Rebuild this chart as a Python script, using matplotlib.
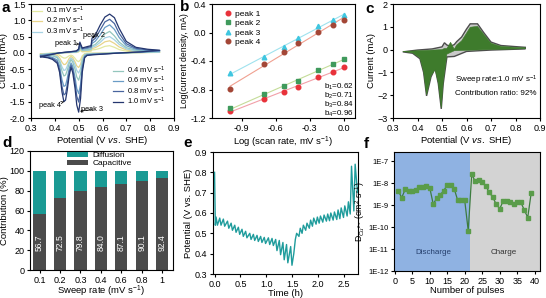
import matplotlib
matplotlib.use("Agg")
import matplotlib.pyplot as plt
import numpy as np

plt.rcParams.update({
    "font.family": ["Liberation Sans", "DejaVu Sans"],
    "font.size": 6.5,
    "axes.linewidth": 0.8,
    "xtick.major.size": 2.5,
    "ytick.major.size": 2.5,
    "xtick.major.width": 0.8,
    "ytick.major.width": 0.8,
    "xtick.major.pad": 1.5,
    "ytick.major.pad": 1.5,
    "axes.labelpad": 1.2,
    "mathtext.fontset": "custom",
    "mathtext.rm": "Liberation Sans",
    "mathtext.it": "Liberation Sans:italic",
    "mathtext.bf": "Liberation Sans:bold",
})

###################
# Data
###################

# (a) CV curves at several sweep rates, anodic + cathodic branch
scan_rates = ["0.1", "0.2", "0.3", "0.4", "0.6", "0.8", "1.0"]
cv_anodic_v = [0.34, 0.38, 0.42, 0.46, 0.49, 0.50, 0.505, 0.515, 0.54, 0.552, 0.556,
               0.57, 0.59, 0.61, 0.63, 0.65, 0.67, 0.70, 0.74, 0.79, 0.84]
cv_cathodic_v = [0.84, 0.76, 0.68, 0.60, 0.56, 0.535, 0.525, 0.515, 0.508, 0.50, 0.492,
                 0.485, 0.475, 0.468, 0.46, 0.452, 0.445, 0.438, 0.43, 0.42, 0.41,
                 0.39, 0.37, 0.34]
cv_anodic_i = [
    [-0.03, -0.01, 0.0, 0.01, 0.01, 0.03, 0.08, 0.03, 0.04, 0.05, 0.09, 0.10, 0.14, 0.20, 0.22, 0.17, 0.10, 0.05, 0.03, 0.02, 0.02],
    [-0.04, -0.02, 0.0, 0.01, 0.02, 0.04, 0.12, 0.05, 0.06, 0.08, 0.13, 0.16, 0.24, 0.34, 0.37, 0.29, 0.18, 0.09, 0.05, 0.03, 0.02],
    [-0.05, -0.02, 0.0, 0.01, 0.02, 0.05, 0.15, 0.07, 0.08, 0.10, 0.17, 0.21, 0.32, 0.46, 0.50, 0.40, 0.26, 0.12, 0.06, 0.04, 0.03],
    [-0.06, -0.03, 0.0, 0.02, 0.03, 0.06, 0.17, 0.08, 0.10, 0.12, 0.21, 0.26, 0.40, 0.58, 0.66, 0.52, 0.33, 0.16, 0.08, 0.05, 0.04],
    [-0.08, -0.04, 0.0, 0.02, 0.04, 0.08, 0.23, 0.11, 0.14, 0.16, 0.29, 0.36, 0.55, 0.78, 0.86, 0.72, 0.47, 0.22, 0.11, 0.07, 0.06],
    [-0.10, -0.05, 0.0, 0.03, 0.05, 0.10, 0.28, 0.13, 0.17, 0.19, 0.36, 0.45, 0.70, 0.95, 1.03, 0.90, 0.60, 0.28, 0.14, 0.09, 0.07],
    [-0.12, -0.06, 0.0, 0.03, 0.06, 0.12, 0.33, 0.15, 0.20, 0.22, 0.45, 0.55, 0.85, 1.10, 1.19, 1.08, 0.75, 0.35, 0.17, 0.11, 0.08],
]
cv_cathodic_i = [
    [0.015, 0.005, 0.0, -0.01, -0.01, -0.015, -0.025, -0.09, -0.21, -0.27, -0.24, -0.17, -0.09, -0.07, -0.09, -0.13, -0.16, -0.16, -0.13, -0.07, -0.04, -0.03, -0.03, -0.03],
    [0.02, 0.01, 0.0, -0.01, -0.015, -0.02, -0.04, -0.15, -0.35, -0.45, -0.40, -0.28, -0.15, -0.11, -0.17, -0.28, -0.35, -0.36, -0.29, -0.15, -0.08, -0.05, -0.04, -0.04],
    [0.03, 0.01, 0.0, -0.015, -0.02, -0.03, -0.05, -0.20, -0.48, -0.62, -0.54, -0.37, -0.21, -0.16, -0.25, -0.41, -0.52, -0.54, -0.43, -0.22, -0.12, -0.07, -0.05, -0.05],
    [0.04, 0.015, 0.0, -0.02, -0.03, -0.04, -0.07, -0.28, -0.64, -0.84, -0.74, -0.51, -0.28, -0.21, -0.33, -0.54, -0.68, -0.71, -0.56, -0.28, -0.15, -0.09, -0.07, -0.06],
    [0.06, 0.02, 0.0, -0.03, -0.04, -0.06, -0.10, -0.41, -0.97, -1.25, -1.10, -0.76, -0.41, -0.31, -0.48, -0.79, -1.00, -1.03, -0.83, -0.41, -0.22, -0.14, -0.10, -0.08],
    [0.07, 0.025, 0.0, -0.035, -0.05, -0.07, -0.13, -0.50, -1.16, -1.51, -1.33, -0.92, -0.50, -0.38, -0.60, -0.99, -1.25, -1.29, -1.03, -0.52, -0.27, -0.17, -0.13, -0.10],
    [0.08, 0.03, 0.0, -0.04, -0.06, -0.08, -0.15, -0.60, -1.40, -1.82, -1.60, -1.10, -0.60, -0.45, -0.70, -1.15, -1.45, -1.50, -1.20, -0.60, -0.32, -0.20, -0.15, -0.12],
]
cv_colors = ["#e2e8a0", "#e8d48a", "#a6d2e4", "#93c6bd", "#6a9cc6", "#48659e", "#24366f"]

# (b) log peak current vs log scan rate
log_rate = [-1.0, -0.699, -0.523, -0.398, -0.222, -0.097, 0.0]
log_peak1 = [-1.10, -0.93, -0.83, -0.77, -0.63, -0.55, -0.48]
log_peak2 = [-1.065, -0.87, -0.757, -0.677, -0.533, -0.44, -0.37]
log_peak3 = [-0.57, -0.35, -0.206, -0.08, 0.092, 0.176, 0.246]
log_peak4 = [-0.79, -0.444, -0.27, -0.15, 0.013, 0.11, 0.176]
b_values = ["0.62", "0.71", "0.84", "0.96"]

# (c) capacitive contribution at 1.0 mV/s
c_anodic_v = [0.34, 0.40, 0.46, 0.50, 0.51, 0.52, 0.535, 0.55, 0.56, 0.58,
              0.60, 0.615, 0.645, 0.67, 0.70, 0.74, 0.80, 0.84]
c_total_anodic = [-0.10, -0.02, 0.03, 0.12, 0.30, 0.20, 0.15, 0.22, 0.35, 0.55,
                  0.90, 1.13, 1.13, 0.75, 0.33, 0.18, 0.13, 0.10]
c_cap_anodic = [-0.08, -0.05, -0.02, 0.0, 0.05, 0.05, 0.32, 0.02, 0.20, 0.38,
                0.72, 0.98, 1.02, 0.68, 0.28, 0.14, 0.10, 0.08]
c_cathodic_v = [0.84, 0.70, 0.60, 0.55, 0.52, 0.505, 0.497, 0.485, 0.472,
                0.455, 0.437, 0.425, 0.41, 0.38, 0.34]
c_total_cathodic = [0.03, -0.02, -0.08, -0.30, -0.32, -1.5, -2.6, -1.5, -0.82,
                    -1.2, -2.03, -1.0, -0.40, -0.16, -0.10]
c_cap_cathodic = [0.04, 0.0, -0.03, -0.05, -0.20, -1.4, -2.55, -1.45, -0.88,
                  -1.15, -1.98, -0.95, -0.36, -0.14, -0.08]

# (d) contribution bars
sweep_labels = ["0.1", "0.2", "0.3", "0.4", "0.6", "0.8", "1"]
capacitive = [56.7, 72.5, 79.8, 84.0, 87.1, 90.1, 92.4]
diffusion = [100 - c for c in capacitive]

# (e) GITT profile
dis_start = [0.03, 0.10, 0.17, 0.25, 0.32, 0.39, 0.46, 0.53, 0.60, 0.68, 0.75,
             0.82, 0.89, 0.96, 1.04, 1.11, 1.18, 1.25, 1.32, 1.39, 1.47]
dis_end = [0.055, 0.125, 0.195, 0.275, 0.345, 0.415, 0.485, 0.555, 0.625, 0.705, 0.775,
           0.845, 0.915, 0.985, 1.065, 1.135, 1.205, 1.275, 1.345, 1.415, 1.495]
dis_relaxed = [0.58, 0.575, 0.57, 0.56, 0.55, 0.54, 0.53, 0.52, 0.51, 0.50, 0.495,
               0.49, 0.485, 0.48, 0.478, 0.475, 0.47, 0.465, 0.455, 0.445, 0.435]
dis_loaded = [0.54, 0.54, 0.535, 0.525, 0.515, 0.505, 0.495, 0.485, 0.478, 0.47, 0.465,
              0.46, 0.455, 0.45, 0.445, 0.44, 0.415, 0.395, 0.37, 0.355, 0.343]
chg_start = [1.56, 1.63, 1.69, 1.76, 1.83, 1.89, 1.96, 2.02, 2.09, 2.16, 2.22,
             2.29, 2.36, 2.42, 2.49, 2.56, 2.62, 2.69]
chg_end = [1.585, 1.655, 1.715, 1.785, 1.855, 1.915, 1.985, 2.045, 2.115, 2.185, 2.245,
           2.315, 2.385, 2.445, 2.515, 2.585, 2.645, 2.715]
chg_relaxed = [0.47, 0.485, 0.50, 0.515, 0.525, 0.535, 0.545, 0.55, 0.555, 0.56, 0.562,
               0.565, 0.568, 0.572, 0.578, 0.585, 0.595, 0.61]
chg_loaded = [0.50, 0.525, 0.54, 0.55, 0.565, 0.575, 0.58, 0.585, 0.59, 0.595, 0.60,
              0.605, 0.615, 0.625, 0.635, 0.655, 0.83, 0.84]
gitt_head_t, gitt_head_v = [0.0, 0.015], [0.80, 0.54]
gitt_gap_t, gitt_gap_v = [1.53], [0.40]
gitt_tail_t, gitt_tail_v = [2.76], [0.70]

# (f) diffusion coefficient per pulse
pulses = list(range(1, 40))
log_diff = [-8.34, -8.65, -8.28, -8.34, -8.37, -8.30, -8.16, -8.16, -8.11, -8.19,
            -8.95, -8.68, -8.52, -8.34, -8.07, -8.07, -8.25, -8.78, -8.75, -8.78,
            -10.16,
            -7.59, -7.91, -7.85, -7.95, -8.13, -8.40, -8.64, -8.95, -9.16,
            -8.80, -8.80, -8.86, -8.92, -8.86, -8.86, -9.21, -9.56, -8.42]

###################
# Figure
###################

W, H = 546, 298
fig = plt.figure(figsize=(W / 100, H / 100), dpi=100)


def box(l, t, r, b):
    return [l / W, 1 - b / H, (r - l) / W, (b - t) / H]


lab_fs = 6.8
note_fs = 5.8

# ---- a
ax = fig.add_axes(box(31, 4, 174, 118))
lines = []
for col, ia, ic in zip(cv_colors, cv_anodic_i, cv_cathodic_i):
    ln, = ax.plot(cv_anodic_v + cv_cathodic_v, ia + ic, color=col, lw=0.9)
    lines.append(ln)
labels = [r + r" mV s$^{-1}$" for r in scan_rates]
leg_kw = dict(frameon=False, fontsize=5.5, handlelength=1.4, labelspacing=-0.12,
              handletextpad=0.5, borderpad=0.1, borderaxespad=0.0)
leg1 = ax.legend(lines[:3], labels[:3], loc="upper left",
                 bbox_to_anchor=(0.0, 1.0), **leg_kw)
ax.add_artist(leg1)
ax.legend(lines[3:], labels[3:], loc="lower left",
          bbox_to_anchor=(0.565, 0.09), **leg_kw)
arrow = dict(arrowstyle="->", lw=0.5, color="black", shrinkA=0, shrinkB=1,
             mutation_scale=4)
ax.annotate("peak 1", xy=(0.503, 0.27), xytext=(0.445, 0.28), fontsize=5.3,
            ha="center", va="center", arrowprops=arrow)
ax.annotate("peak 2", xy=(0.556, 0.40), xytext=(0.565, 0.52), fontsize=5.3,
            ha="center", va="center", arrowprops=arrow)
ax.annotate("peak 3", xy=(0.50, -1.8), xytext=(0.556, -1.74), fontsize=5.3,
            ha="center", va="center", arrowprops=arrow)
ax.annotate("peak 4", xy=(0.438, -1.5), xytext=(0.38, -1.63), fontsize=5.3,
            ha="center", va="center", arrowprops=arrow)
ax.set_xlim(0.3, 0.9)
ax.set_ylim(-2.0, 1.5)
ax.set_xticks(np.arange(0.3, 0.91, 0.1))
ax.set_yticks(np.arange(-2.0, 1.51, 0.5))
ax.xaxis.set_major_formatter(matplotlib.ticker.FormatStrFormatter("%.1f"))
ax.yaxis.set_major_formatter(matplotlib.ticker.FormatStrFormatter("%.1f"))
ax.set_xlabel(r"Potential (V $\mathit{vs.}$ SHE)", fontsize=lab_fs)
ax.set_ylabel("Current (mA)", fontsize=lab_fs)

# ---- b
ax = fig.add_axes(box(212, 4, 355, 118))
series = [(log_peak1, "#e8323a", "o", "#f2a0a8"),
          (log_peak2, "#3f9a5c", "s", "#c4dc98"),
          (log_peak3, "#3fc6e0", "^", "#9fe2ee"),
          (log_peak4, "#a34636", "o", "#f0a090")]
for i, (vals, col, mk, lcol) in enumerate(series):
    k, b0 = np.polyfit(log_rate, vals, 1)
    xs = np.array([log_rate[0], log_rate[-1]])
    ax.plot(xs, k * xs + b0, color=lcol, lw=0.8, zorder=1)
    ax.plot(log_rate, vals, ls="none", marker=mk, ms=3.3, color=col,
            label="peak %d" % (i + 1), zorder=3)
ax.legend(loc="upper left", frameon=False, fontsize=6, handlelength=1.0,
          handletextpad=0.4, labelspacing=0.2, borderaxespad=0.3,
          bbox_to_anchor=(0.04, 1.0))
for i, bv in enumerate(b_values):
    ax.text(-0.17, -0.77 - 0.125 * i, r"b$_%d$=%s" % (i + 1, bv), fontsize=note_fs,
            ha="left", va="center")
ax.set_xlim(-1.16, 0.1)
ax.set_ylim(-1.2, 0.4)
ax.set_xticks([-0.9, -0.6, -0.3, 0.0])
ax.set_yticks([-1.2, -0.8, -0.4, 0.0, 0.4])
ax.xaxis.set_major_formatter(matplotlib.ticker.FormatStrFormatter("%.1f"))
ax.yaxis.set_major_formatter(matplotlib.ticker.FormatStrFormatter("%.1f"))
ax.set_xlabel(r"Log (scan rate, mV s$^{-1}$)", fontsize=lab_fs)
ax.set_ylabel("Log(current density, mA)", fontsize=6.2)

# ---- c
ax = fig.add_axes(box(393, 4, 540, 118))
ax.fill(c_anodic_v + c_cathodic_v, c_total_anodic + c_total_cathodic,
        facecolor="#c9c9c9", edgecolor="#4d4d4d", lw=1.0, zorder=1)
ax.fill(c_anodic_v + c_cathodic_v, c_cap_anodic + c_cap_cathodic,
        facecolor="#3e7b2c", edgecolor="#3e7b2c", lw=0.4, zorder=2)
ax.text(0.555, -1.34, r"Sweep rate:1.0 mV s$^{-1}$", fontsize=note_fs, va="center")
ax.text(0.555, -1.92, "Contribution ratio: 92%", fontsize=note_fs, va="center")
ax.set_xlim(0.3, 0.9)
ax.set_ylim(-3, 2)
ax.set_xticks(np.arange(0.3, 0.91, 0.1))
ax.set_yticks([-3, -2, -1, 0, 1, 2])
ax.xaxis.set_major_formatter(matplotlib.ticker.FormatStrFormatter("%.1f"))
ax.set_xlabel(r"Potential (V $\mathit{vs.}$ SHE)", fontsize=lab_fs)
ax.set_ylabel("Current (mA)", fontsize=lab_fs)

# ---- d
ax = fig.add_axes(box(30, 151, 173, 270))
xpos = np.arange(len(sweep_labels))
ax.bar(xpos, capacitive, width=0.6, color="#4b4b4b", label="Capacitive")
ax.bar(xpos, diffusion, width=0.6, bottom=capacitive, color="#1a9a94", label="Diffusion")
for x, c in zip(xpos, capacitive):
    ax.text(x, 28, "%.1f" % c, rotation=90, color="white", fontsize=6.2,
            ha="center", va="center")
h, l = ax.get_legend_handles_labels()
ax.legend(h[::-1], l[::-1], loc="upper left", frameon=False, fontsize=6,
          handlelength=2.6, handleheight=0.55, labelspacing=0.05, handletextpad=0.5,
          borderpad=0.1, borderaxespad=0.0, bbox_to_anchor=(0.25, 1.0))
ax.set_xlim(-0.47, 6.53)
ax.set_ylim(0, 120)
ax.set_xticks(xpos)
ax.set_xticklabels(sweep_labels)
ax.set_yticks(range(0, 121, 20))
ax.set_xlabel(r"Sweep rate (mV s$^{-1}$)", fontsize=lab_fs, labelpad=-0.5)
ax.set_ylabel("Contribution (%)", fontsize=lab_fs, labelpad=0.5)

# ---- e
ax = fig.add_axes(box(213, 152, 358, 274))
gitt_t = list(gitt_head_t)
gitt_v = list(gitt_head_v)
for ts, te, vr, vl in zip(dis_start, dis_end, dis_relaxed, dis_loaded):
    gitt_t += [ts, te]
    gitt_v += [vr, vl]
gitt_t += gitt_gap_t
gitt_v += gitt_gap_v
for ts, te, vr, vl in zip(chg_start, chg_end, chg_relaxed, chg_loaded):
    gitt_t += [ts, te]
    gitt_v += [vr, vl]
gitt_t += gitt_tail_t
gitt_v += gitt_tail_v
ax.plot(gitt_t, gitt_v, color="#1f9c9c", lw=1.0)
ax.set_xlim(-0.03, 2.77)
ax.set_ylim(0.3, 0.9)
ax.set_xticks([0.0, 0.5, 1.0, 1.5, 2.0, 2.5])
ax.set_yticks(np.arange(0.3, 0.91, 0.1))
ax.xaxis.set_major_formatter(matplotlib.ticker.FormatStrFormatter("%.1f"))
ax.yaxis.set_major_formatter(matplotlib.ticker.FormatStrFormatter("%.1f"))
ax.set_xlabel("Time (h)", fontsize=lab_fs, labelpad=0.5)
ax.set_ylabel("Potential (V vs. SHE)", fontsize=lab_fs)

# ---- f
ax = fig.add_axes(box(394, 152, 540, 271))
ax.axvspan(-1, 21.5, color="#8fb2e2", lw=0, zorder=0)
ax.axvspan(21.5, 45, color="#d3d3d3", lw=0, zorder=0)
diff_vals = [10 ** v for v in log_diff]
ax.plot(pulses, diff_vals, color="#3d7c3f", lw=0.9, marker="s", ms=2.6,
        mfc="#5a9c4a", mec="#5a9c4a", zorder=3)
ax.text(11, 10 ** -11.15, "Discharge", fontsize=note_fs, color="#26406e",
        ha="center", va="center")
ax.text(31.2, 10 ** -11.15, "Charge", fontsize=note_fs, color="#333333",
        ha="center", va="center")
ax.set_yscale("log")
ax.set_xlim(-0.2, 41.5)
ax.set_ylim(1e-12, 10 ** -6.57)
ax.set_yticks([1e-12, 1e-11, 1e-10, 1e-9, 1e-8, 1e-7])
ax.set_yticklabels(["1E-12", "1E-11", "1E-10", "1E-9", "1E-8", "1E-7"])
ax.yaxis.set_minor_locator(matplotlib.ticker.NullLocator())
ax.tick_params(axis="y", labelsize=5.5)
ax.set_xticks(range(0, 41, 5))
ax.set_xlabel("Number of pulses", fontsize=lab_fs, labelpad=0.5)
ax.set_ylabel(r"D$_{Cu^{2+}}$ (cm$^{2}$ s$^{-1}$)", fontsize=6.3, labelpad=0.5)

# panel letters
for letter, x, y in [("a", 2, 12), ("b", 180, 11), ("c", 365, 13),
                     ("d", 2, 147), ("e", 183, 147), ("f", 364, 148)]:
    fig.text(x / W, 1 - y / H, letter, fontsize=11, fontweight="bold", va="baseline")

plt.savefig("out.png", dpi=100)
